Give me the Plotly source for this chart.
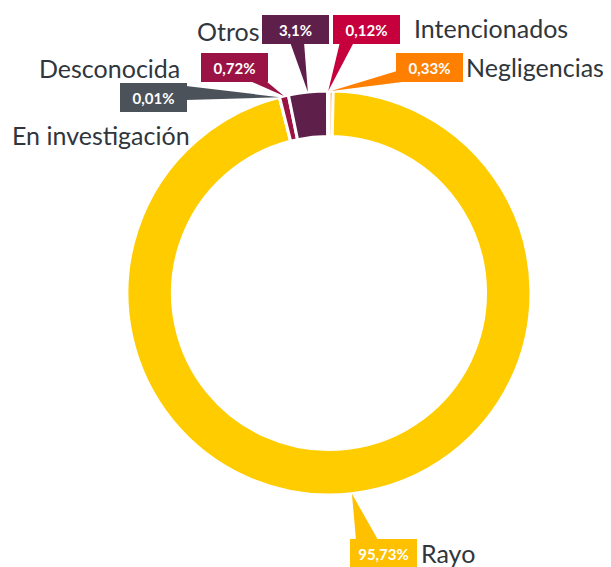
import math
import plotly.graph_objects as go

# ---- data ----
categories = ["Negligencias", "Rayo", "En investigación", "Desconocida", "Otros", "Intencionados"]
values = [0.33, 95.73, 0.01, 0.72, 3.1, 0.12]
slice_colors = ["#FF8000", "#FFCC00", "#4B525A", "#9B1244", "#5E1F4B", "#C6003D"]
box_colors = ["#FF8000", "#FFC000", "#4B525A", "#9B1244", "#5E1F4B", "#C6003D"]

# page geometry (the html body has an 8px margin)
PAGE_W, PAGE_H, OFF = 611, 567, 8
W, H = PAGE_W - OFF, PAGE_H - OFF
CX, CY, R = 329, 293, 202  # pie geometry in page pixels
HOLE = 0.775

# label-box layout (page pixel centres), category label anchors, pointer bases
box_pos = {
    "Negligencias": (429.5, 67),
    "Rayo": (383.5, 553),
    "En investigación": (153, 97.5),
    "Desconocida": (234.5, 67),
    "Otros": (295.5, 29),
    "Intencionados": (366.5, 29),
}
label_pos = {
    "Negligencias": (464, 67),
    "Rayo": (419, 553),
    "En investigación": (10, 135),
    "Desconocida": (37, 68),
    "Otros": (195, 31),
    "Intencionados": (412, 28),
}
pointer_base = {
    "Negligencias": ((397, 71), (402, 82)),
    "Rayo": ((356, 540), (378, 540)),
    "En investigación": ((186, 86), (186, 100)),
    "Desconocida": ((250, 81), (266, 81)),
    "Otros": ((290, 42), (304, 42)),
    "Intencionados": ((340, 42), (354, 42)),
}


def px2paper(x, y):
    return (x - OFF) / W, 1 - (y - OFF) / H


fig = go.Figure()
dx0, dy1 = px2paper(CX - R, CY - R)
dx1, dy0 = px2paper(CX + R, CY + R)
fig.add_trace(go.Pie(
    labels=categories,
    values=values,
    sort=False,
    direction="clockwise",
    rotation=0,
    hole=HOLE,
    marker=dict(colors=slice_colors, line=dict(color="white", width=3)),
    textinfo="none",
    hoverinfo="label+percent",
    showlegend=False,
    domain=dict(x=[dx0, dx1], y=[dy0, dy1]),
))

total = sum(values)
cum = 0.0
shapes = []
annotations = []
for cat, v, bc in zip(categories, values, box_colors):
    mid = (cum + v / 2) / total * 360.0
    cum += v
    t = math.radians(mid)
    tx = CX + R * math.sin(t)
    ty = CY - R * math.cos(t)
    (b1x, b1y), (b2x, b2y) = pointer_base[cat]
    p = [px2paper(tx, ty), px2paper(b1x, b1y), px2paper(b2x, b2y)]
    path = "M {:.5f} {:.5f} L {:.5f} {:.5f} L {:.5f} {:.5f} Z".format(
        p[0][0], p[0][1], p[1][0], p[1][1], p[2][0], p[2][1])
    shapes.append(dict(type="path", xref="paper", yref="paper", path=path,
                       fillcolor=bc, line=dict(width=0), layer="above"))
    bx, by = px2paper(*box_pos[cat])
    txt = ("{:g}".format(v)).replace(".", ",") + "%"
    annotations.append(dict(
        x=bx, y=by, xref="paper", yref="paper", showarrow=False,
        text="<b>" + txt + "</b>", xanchor="center", yanchor="middle",
        font=dict(family="Lato, 'Open Sans', sans-serif", size=15, color="white"),
        bgcolor=bc, borderpad=0, borderwidth=0, width=67, height=29,
    ))
    lx, ly = px2paper(*label_pos[cat])
    annotations.append(dict(
        x=lx, y=ly, xref="paper", yref="paper", showarrow=False,
        text=cat, xanchor="left", yanchor="middle",
        font=dict(family="Lato, 'Noto Sans', sans-serif", size=25, color="#30363C"),
    ))

fig.update_layout(
    width=W, height=H,
    margin=dict(l=0, r=0, t=0, b=0),
    paper_bgcolor="white",
    plot_bgcolor="white",
    shapes=shapes,
    annotations=annotations,
)

fig.write_html("out.html")
